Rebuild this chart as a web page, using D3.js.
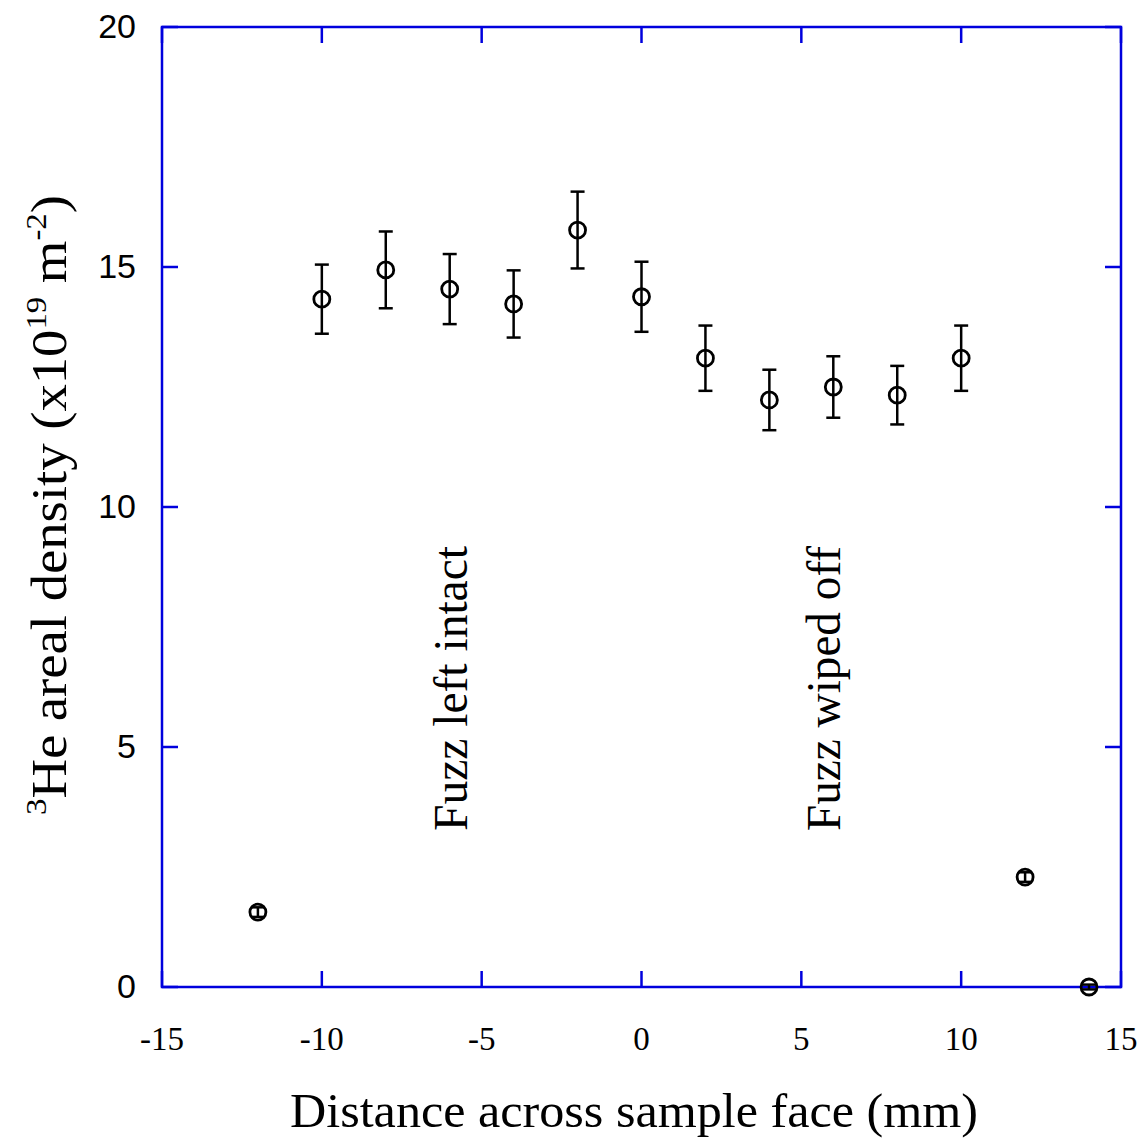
<!DOCTYPE html>
<html>
<head>
<meta charset="utf-8">
<script src="https://cdn.jsdelivr.net/npm/d3@7"></script>
<style>
 body { margin: 0; background: #fff; }
 .frame { fill: none; stroke: #0000dd; stroke-width: 2.5; }
 .tick line { stroke: #0000dd; stroke-width: 2.5; }
 .err { stroke: #000; stroke-width: 2.5; }
 .pt { fill: none; stroke: #000; stroke-width: 2.8; }
</style>
</head>
<body>
<svg id="chart" width="1144" height="1139"></svg>
<script>
 // data
 const pos    = [-12, -10, -8, -6, -4, -2, 0, 2, 4, 6, 8, 10, 12, 14];
 const dens   = [1.56, 14.33, 14.94, 14.54, 14.23, 15.77, 14.38, 13.1, 12.23, 12.5, 12.33, 13.1, 2.29, 0];
 const errs   = [0.1, 0.72, 0.8, 0.73, 0.7, 0.8, 0.73, 0.68, 0.63, 0.64, 0.61, 0.68, 0.1, 0.05];
 const xTicks = [-15, -10, -5, 0, 5, 10, 15];
 const yTicks = [0, 5, 10, 15, 20];
 const notes  = [{x: -5.47, text: 'Fuzz left intact'}, {x: 6.2, text: 'Fuzz wiped off'}];

 const svg = d3.select('#chart');
 const mLeft = 162, mRight = 1121, mTop = 27, mBottom = 987;
 const serif = '"Liberation Serif", "DejaVu Serif", serif';

 const x = d3.scaleLinear().domain([-15, 15]).range([mLeft, mRight]);
 const y = d3.scaleLinear().domain([0, 20]).range([mBottom, mTop]);
 const tl = 16;

 // ticks on all four sides, pointing in
 const g = svg.append('g');
 g.selectAll('.xb').data(xTicks).enter().append('g').attr('class', 'tick')
  .append('line').attr('x1', d => x(d)).attr('x2', d => x(d)).attr('y1', mBottom).attr('y2', mBottom - tl);
 g.selectAll('.xt').data(xTicks).enter().append('g').attr('class', 'tick')
  .append('line').attr('x1', d => x(d)).attr('x2', d => x(d)).attr('y1', mTop).attr('y2', mTop + tl);
 g.selectAll('.yl').data(yTicks).enter().append('g').attr('class', 'tick')
  .append('line').attr('x1', mLeft).attr('x2', mLeft + tl).attr('y1', d => y(d)).attr('y2', d => y(d));
 g.selectAll('.yr').data(yTicks).enter().append('g').attr('class', 'tick')
  .append('line').attr('x1', mRight).attr('x2', mRight - tl).attr('y1', d => y(d)).attr('y2', d => y(d));

 svg.append('rect').attr('class', 'frame')
    .attr('x', mLeft).attr('y', mTop).attr('width', mRight - mLeft).attr('height', mBottom - mTop);

 // tick labels
 svg.selectAll('.xlab').data(xTicks).enter().append('text')
    .attr('x', d => x(d)).attr('y', 1050)
    .attr('text-anchor', 'middle')
    .style('font-family', serif)
    .style('font-size', '33px')
    .text(d => d);
 svg.selectAll('.ylab').data(yTicks).enter().append('text')
    .attr('x', 136).attr('y', d => y(d) + 11)
    .attr('text-anchor', 'end')
    .style('font-family', '"Liberation Sans", Arial, sans-serif')
    .style('font-size', '34px')
    .text(d => d);

 // axis titles
 svg.append('text')
    .attr('x', 634).attr('y', 1127)
    .attr('text-anchor', 'middle')
    .attr('textLength', 688).attr('lengthAdjust', 'spacingAndGlyphs')
    .style('font-family', serif)
    .style('font-size', '48px')
    .text('Distance across sample face (mm)');

 const ytg = svg.append('g');
 const yt = ytg.append('text')
    .attr('text-anchor', 'middle')
    .style('font-family', serif)
    .style('font-size', '50px');
 yt.append('tspan').attr('dy', -20).style('font-size', '30px').text('3');
 yt.append('tspan').attr('dy', 20).text('He areal density (x10');
 yt.append('tspan').attr('dy', -20).style('font-size', '30px').text('19');
 yt.append('tspan').attr('dy', 20).text(' m');
 yt.append('tspan').attr('dy', -20).style('font-size', '30px').text('-2');
 yt.append('tspan').attr('dy', 20).text(')');
 const ytLen = yt.node().getComputedTextLength();
 ytg.attr('transform', 'translate(66,505) rotate(-90) scale(' + (620 / ytLen) + ',1)');

 // annotations
 svg.selectAll('.note').data(notes).enter().append('text')
    .attr('transform', d => 'translate(' + x(d.x) + ',831) rotate(-90)')
    .attr('textLength', 285).attr('lengthAdjust', 'spacingAndGlyphs')
    .style('font-family', serif)
    .style('font-size', '48px')
    .text(d => d.text);

 // error bars + points
 const cap = 7;
 const pts = svg.append('g').selectAll('g').data(pos).enter().append('g');
 pts.append('line').attr('class', 'err')
    .attr('x1', d => x(d)).attr('x2', d => x(d))
    .attr('y1', (d, i) => y(dens[i] - errs[i])).attr('y2', (d, i) => y(dens[i] + errs[i]));
 pts.append('line').attr('class', 'err')
    .attr('x1', d => x(d) - cap).attr('x2', d => x(d) + cap)
    .attr('y1', (d, i) => y(dens[i] + errs[i])).attr('y2', (d, i) => y(dens[i] + errs[i]));
 pts.append('line').attr('class', 'err')
    .attr('x1', d => x(d) - cap).attr('x2', d => x(d) + cap)
    .attr('y1', (d, i) => y(dens[i] - errs[i])).attr('y2', (d, i) => y(dens[i] - errs[i]));
 pts.append('circle').attr('class', 'pt')
    .attr('cx', d => x(d)).attr('cy', (d, i) => y(dens[i])).attr('r', 8);
</script>
</body>
</html>
